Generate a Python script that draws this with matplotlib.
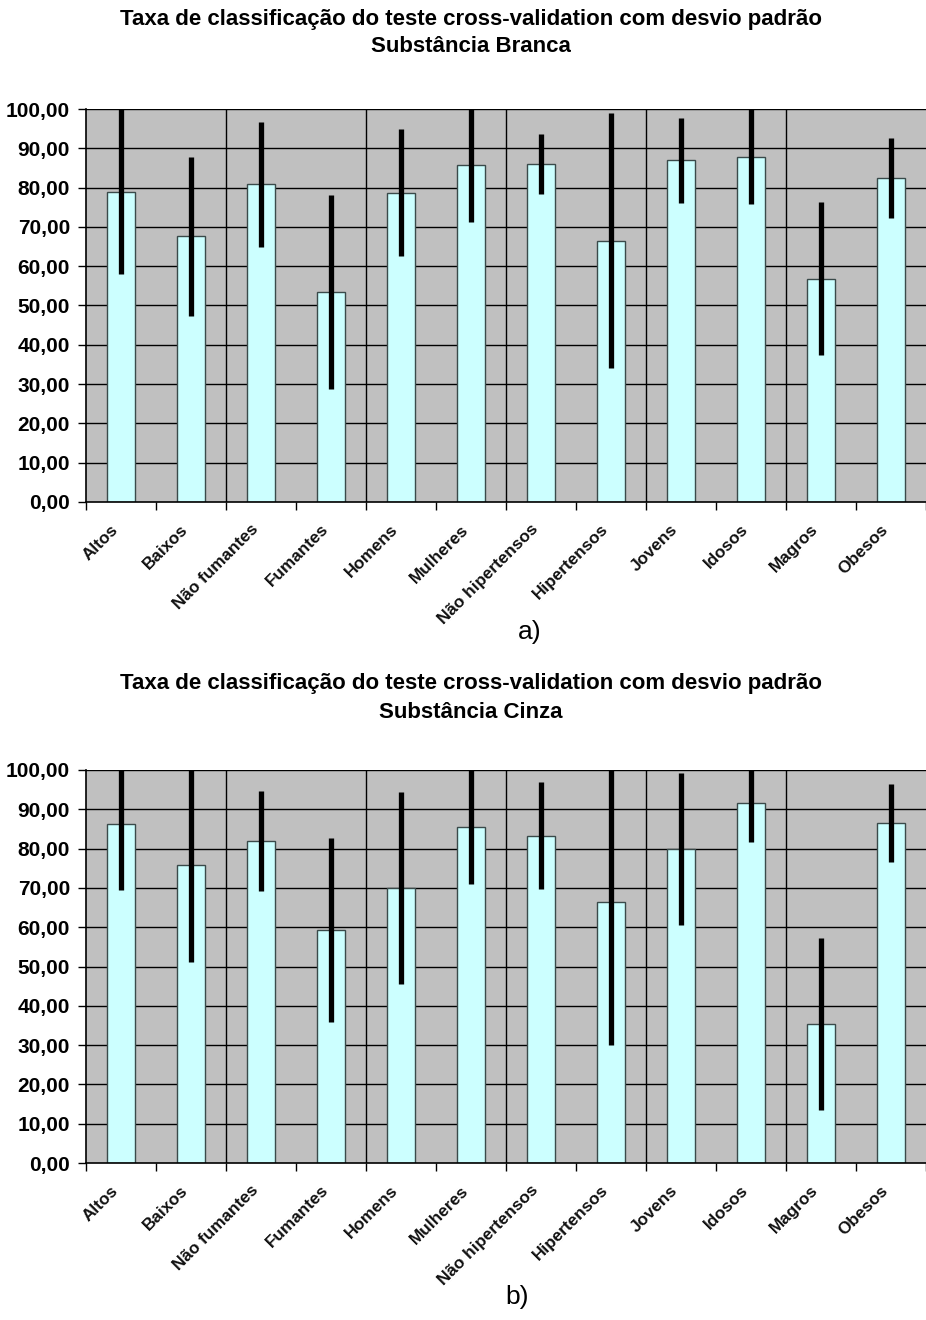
import numpy as np
import matplotlib
matplotlib.use("Agg")
import matplotlib.pyplot as plt
from matplotlib.ticker import FuncFormatter, MultipleLocator

plt.rcParams['font.family'] = ['Liberation Sans', 'DejaVu Sans']

grupos = ['Altos', 'Baixos', 'Não fumantes', 'Fumantes', 'Homens', 'Mulheres',
          'Não hipertensos', 'Hipertensos', 'Jovens', 'Idosos', 'Magros', 'Obesos']

# substancia branca
media_branca = [79.0, 67.6, 80.8, 53.4, 78.7, 85.8, 86.0, 66.5, 86.9, 87.9, 56.8, 82.4]
dp_branca = [21.0, 20.3, 15.9, 24.6, 16.2, 14.5, 7.7, 32.4, 10.9, 12.2, 19.5, 10.2]

# substancia cinza
media_cinza = [86.3, 75.7, 81.9, 59.2, 70.0, 85.4, 83.3, 66.5, 79.9, 91.7, 35.4, 86.5]
dp_cinza = [16.8, 24.5, 12.8, 23.4, 24.5, 14.5, 13.7, 36.5, 19.3, 9.9, 21.8, 9.95]

titulo = 'Taxa de classificação do teste cross-validation com desvio padrão'


def painel(ax, medias, dps):
    x = np.arange(len(grupos))
    ax.set_facecolor('#c0c0c0')
    ax.bar(x, medias, width=0.39, color='#ccffff', edgecolor='#3a4a4a',
           linewidth=1.0, zorder=2)
    ax.errorbar(x, medias, yerr=dps, fmt='none', ecolor='black',
                elinewidth=3.8, capsize=0, zorder=3)
    ax.set_ylim(0, 100)
    ax.set_xlim(-0.5, 11.43)
    ax.yaxis.set_major_locator(MultipleLocator(10))
    ax.yaxis.set_major_formatter(FuncFormatter(lambda v, p: f'{v:.2f}'.replace('.', ',')))
    for yv in range(10, 101, 10):
        ax.axhline(yv, color='black', lw=1.0, zorder=1)
    for xv in [1.5, 3.5, 5.5, 7.5, 9.5]:
        ax.axvline(xv, color='black', lw=1.0, zorder=1)
    ax.set_xticks(np.arange(-0.5, 12, 1.0))
    ax.set_xticklabels([])
    for xi, nome in zip(x, grupos):
        ax.text(xi + 0.0, -5.0, nome, rotation=45, ha='right', va='top',
                fontsize=12.3, fontweight='bold', color='#111111')
    ax.tick_params(axis='x', direction='out', length=6, width=1, color='black')
    ax.tick_params(axis='y', direction='out', length=6, width=1, color='black',
                   labelsize=15, pad=5.5)
    for lab in ax.get_yticklabels():
        lab.set_fontweight('bold')
    for s in ['top', 'right']:
        ax.spines[s].set_visible(False)
    ax.spines['left'].set_color('black')
    ax.spines['bottom'].set_color('black')
    ax.spines['left'].set_linewidth(1.2)
    ax.spines['bottom'].set_linewidth(1.2)


fig = plt.figure(figsize=(9.26, 13.2), dpi=100)
ax1 = fig.add_axes([86 / 926, (1320 - 502) / 1320, 840 / 926, 393 / 1320])
ax2 = fig.add_axes([86 / 926, (1320 - 1163) / 1320, 840 / 926, 393 / 1320])

painel(ax1, media_branca, dp_branca)
painel(ax2, media_cinza, dp_cinza)

fig.text(471 / 926, 1 - 19 / 1320, titulo, ha='center', va='center',
         fontsize=16, fontweight='bold')
fig.text(471 / 926, 1 - 47 / 1320, 'Substância Branca', ha='center', va='center',
         fontsize=16, fontweight='bold')
fig.text(471 / 926, 1 - 684 / 1320, titulo, ha='center', va='center',
         fontsize=16, fontweight='bold')
fig.text(471 / 926, 1 - 712 / 1320, 'Substância Cinza', ha='center', va='center',
         fontsize=16, fontweight='bold')
fig.text(530 / 926, 1 - 632 / 1320, 'a)', ha='center', va='center', fontsize=19)
fig.text(517 / 926, 1 - 1297 / 1320, 'b)', ha='center', va='center', fontsize=19)

fig.savefig('out.png', dpi=100, facecolor='white')
